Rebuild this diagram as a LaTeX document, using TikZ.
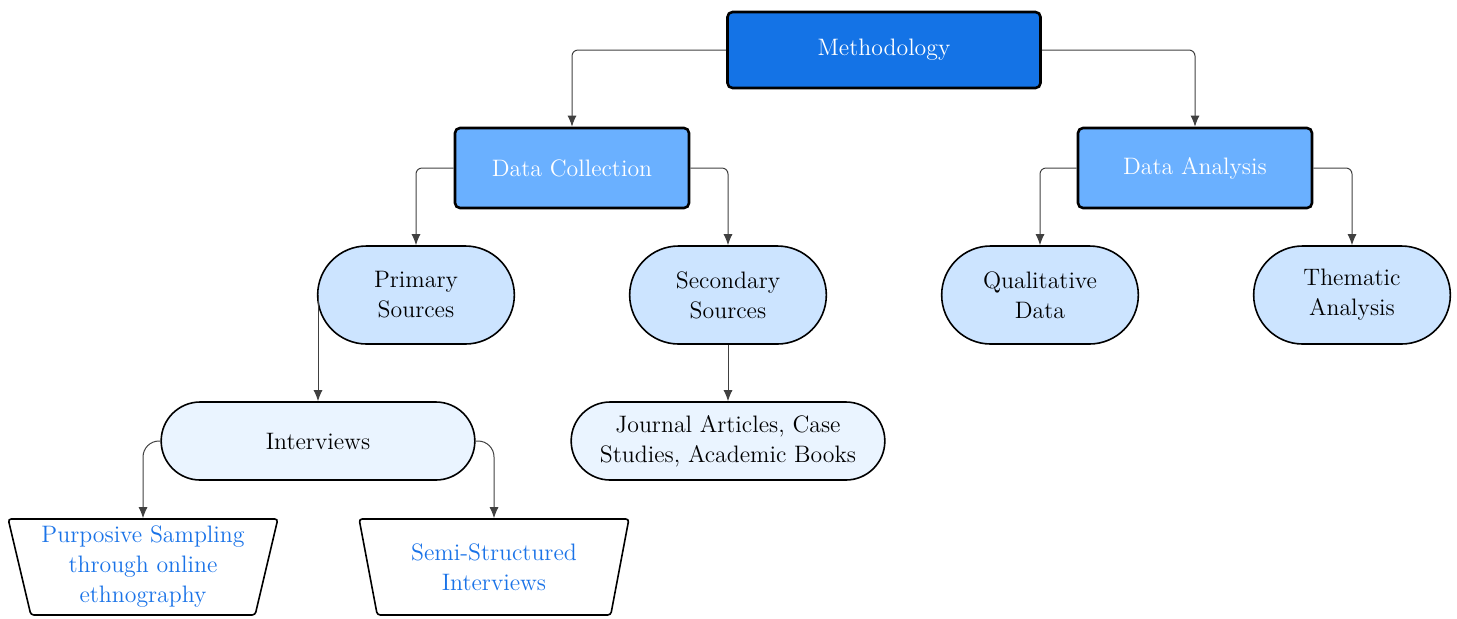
\documentclass[tikz,border=0pt]{standalone}
\usetikzlibrary{shapes.misc,shapes.geometric,arrows.meta}
\definecolor{deepblue}{HTML}{1473E6}
\definecolor{midblue}{HTML}{6AB0FF}
\definecolor{pillblue}{HTML}{CCE4FF}
\definecolor{paleblue}{HTML}{EAF4FF}
\definecolor{textblue}{HTML}{1A73E8}
\begin{document}
\begin{tikzpicture}[
        x=0.5pt, y=-0.5pt,
        font=\fontsize{11.9}{15}\selectfont,
        topbox/.style={rectangle, draw, line width=1.3pt, rounded corners=2.5pt, align=center, minimum width=117pt, minimum height=40pt, text=white},
        pill/.style={rounded rectangle, draw, line width=0.8pt, align=center, minimum width=105pt, minimum height=49pt, fill=pillblue},
        widepill/.style={pill, minimum width=163.5pt, minimum height=39pt, fill=paleblue},
        leaf/.style={trapezium, shape border rotate=180, trapezium stretches=true, draw, line width=0.8pt, rounded corners=1.5pt, align=center, minimum width=135pt, minimum height=48pt, trapezium left angle=77, trapezium right angle=77, text=textblue, fill=white},
        arrow/.style={-{Latex[length=5.5pt,width=4.5pt]}, draw=black!75, line width=0.5pt, rounded corners=3pt}
    ]
        \useasboundingbox (0,0) rectangle (1457,618);

        \node[topbox, fill=deepblue, minimum width=156.5pt, minimum height=38pt] (meth) at (884,50) {Methodology};
        \node[topbox, fill=midblue] (dc) at (572,168) {Data Collection};
        \node[topbox, fill=midblue] (da) at (1195,168) {Data Analysis};

        \node[pill] (ps) at (416,295) {Primary\\Sources};
        \node[pill] (ss) at (728,295) {Secondary\\Sources};
        \node[pill] (qd) at (1040,295) {Qualitative\\Data};
        \node[pill] (ta) at (1352,295) {Thematic\\Analysis};

        \node[widepill] (iv) at (318,441) {Interviews};
        \node[widepill] (jr) at (728,441) {Journal Articles, Case\\Studies, Academic Books};

        \node[leaf] (pur) at (143,567) {Purposive Sampling\\through online\\ethnography};
        \node[leaf] (semi) at (494,567) {Semi-Structured\\Interviews};

        \draw[arrow] (meth.west) -| (dc.north);
        \draw[arrow] (meth.east) -| (da.north);
        \draw[arrow] (dc.west) -| (ps.north);
        \draw[arrow] (dc.east) -| (ss.north);
        \draw[arrow] (da.west) -| (qd.north);
        \draw[arrow] (da.east) -| (ta.north);
        \draw[arrow] (iv.north |- ps.west) -- (iv.north);
        \draw[arrow] (ss.south) -- (jr.north);
        \draw[arrow, rounded corners=8pt] (iv.west) -| (pur.north);
        \draw[arrow, rounded corners=8pt] (iv.east) -| (semi.north);
    \end{tikzpicture}
\end{document}
